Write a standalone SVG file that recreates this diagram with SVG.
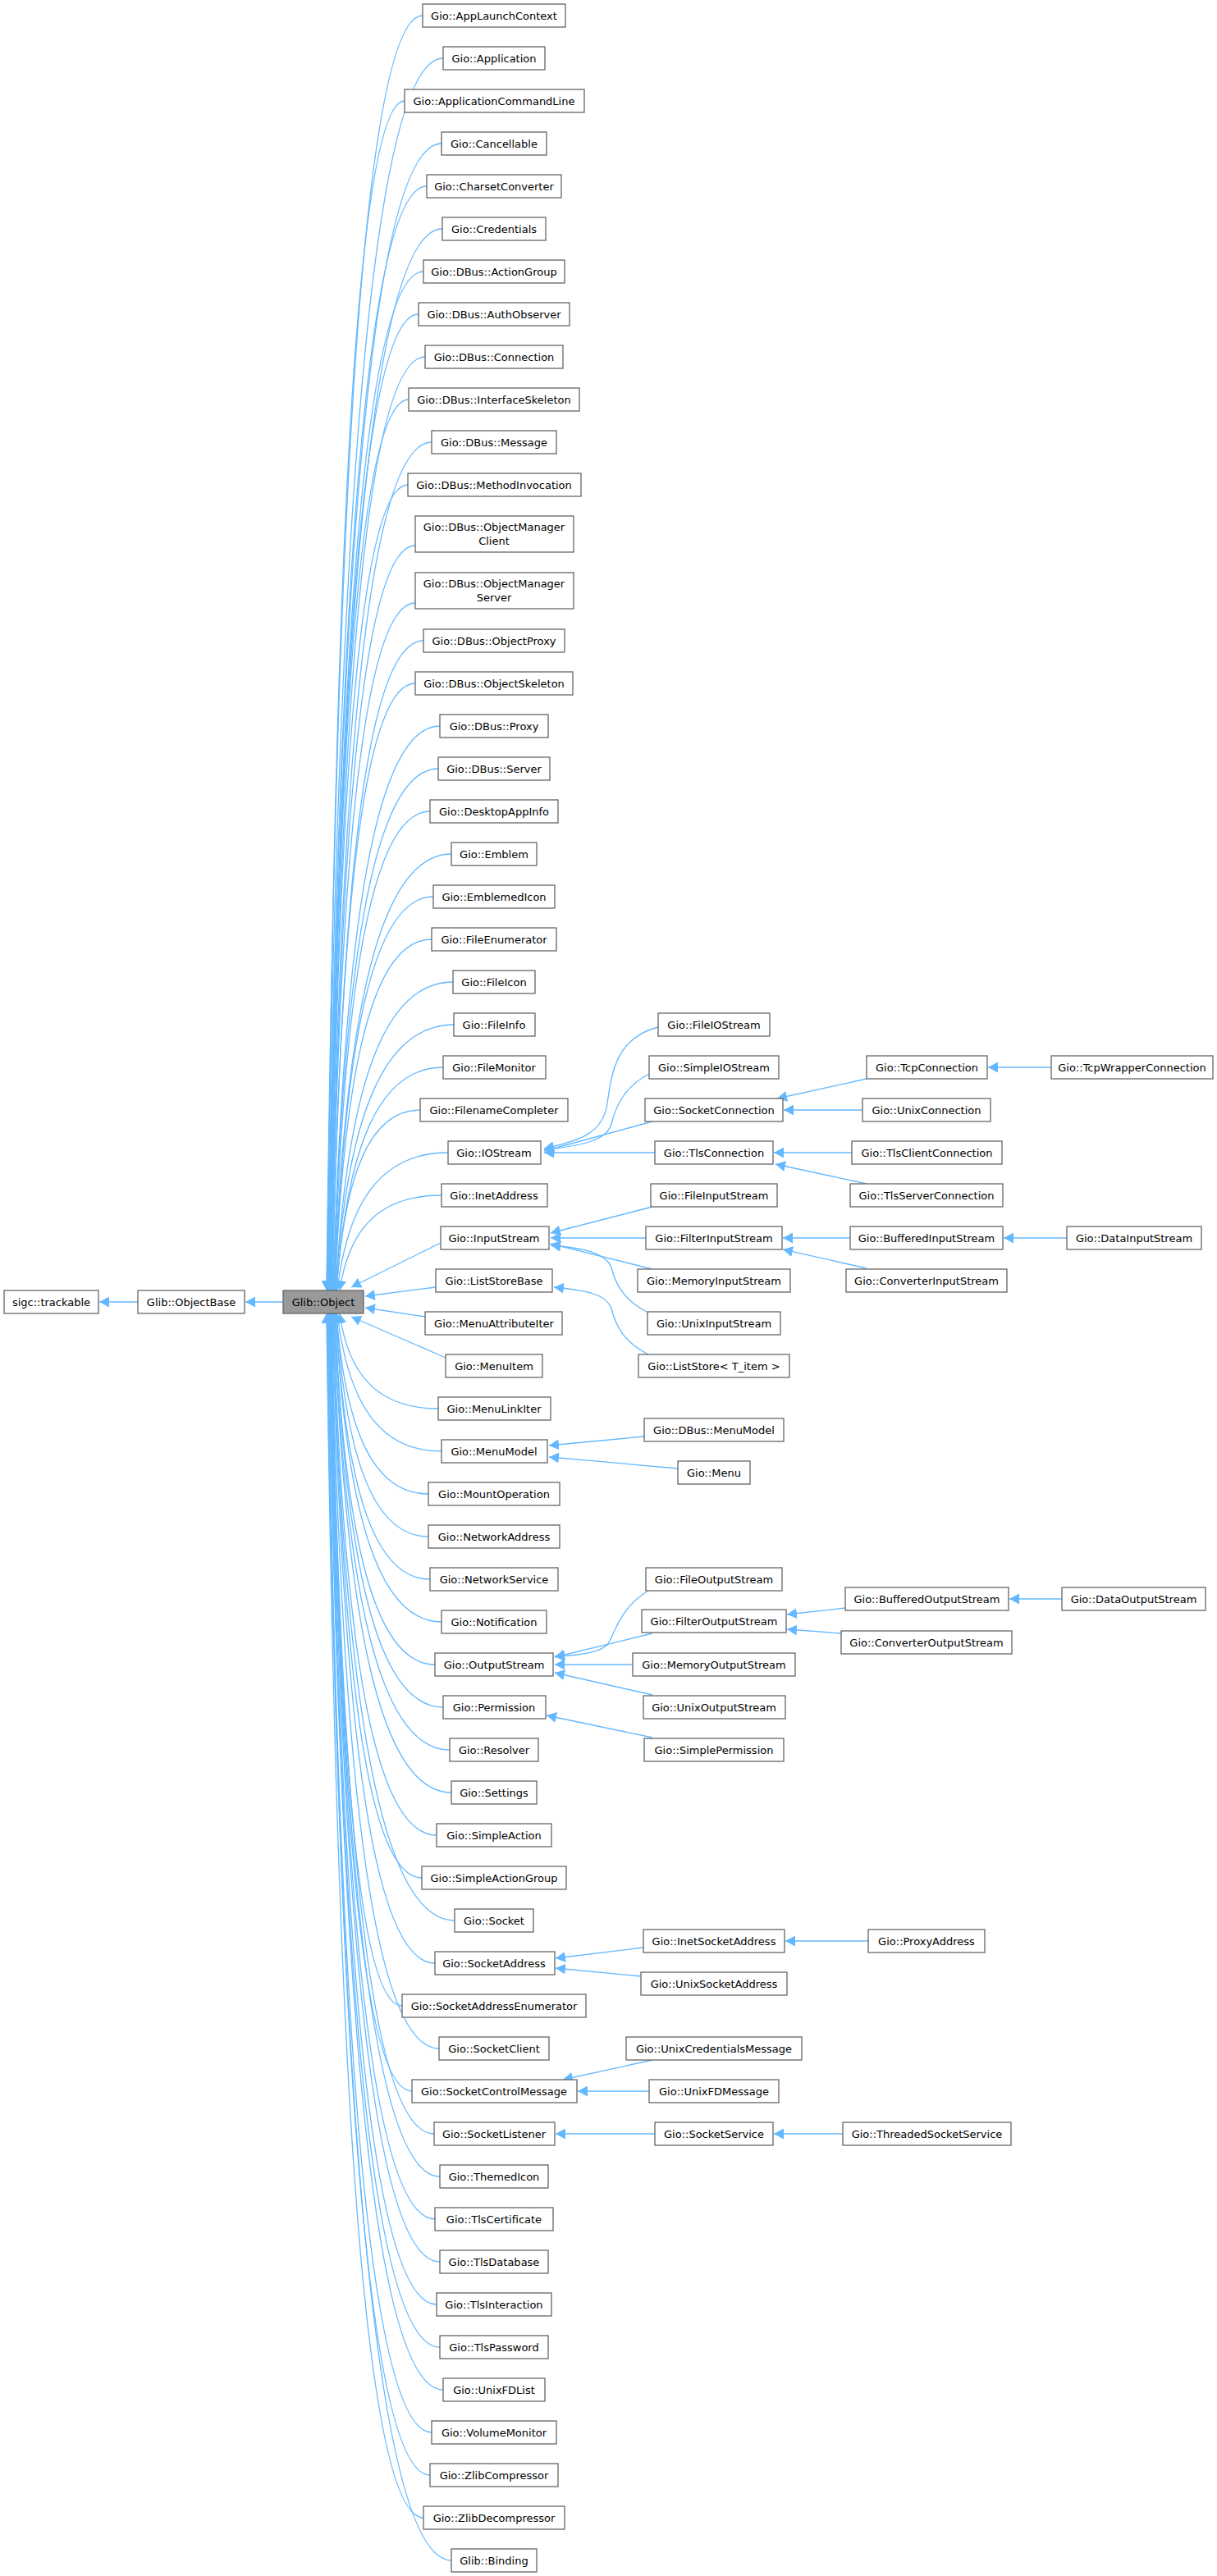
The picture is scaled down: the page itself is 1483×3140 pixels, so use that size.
<svg xmlns="http://www.w3.org/2000/svg" width="1483" height="3140" viewBox="0 0 1483 3140">
<style>
.n rect{fill:#fff;stroke:#666;stroke-width:1.3}
.n text{font-family:"DejaVu Sans",sans-serif;font-size:13px;fill:#000;text-anchor:middle}
#Object rect{fill:#999}
.e path{fill:none;stroke:#63b8ff;stroke-width:1.3;marker-end:url(#a)}
</style>
<defs><marker id="a" markerUnits="userSpaceOnUse" markerWidth="13" markerHeight="13" refX="12" refY="6.5" orient="auto"><path d="M0,0 L12,6.5 L0,13 z" fill="#63b8ff"/></marker></defs>
<g class="e" id="edges">
<path d="M345,1587 L299,1587"/>
<path d="M168,1587 L121,1587"/>
<path d="M515,19 C445,19 410,563 398,1573"/>
<path d="M540,71 C455,71 412,597 398,1573"/>
<path d="M493,123 C437,123 408,631 399,1573"/>
<path d="M538,175 C455,175 413,664 399,1573"/>
<path d="M520,227 C448,227 412,698 400,1573"/>
<path d="M539,279 C456,279 414,732 400,1573"/>
<path d="M516,331 C447,331 412,766 401,1573"/>
<path d="M510,383 C445,383 412,800 401,1573"/>
<path d="M518,435 C448,435 414,833 402,1573"/>
<path d="M498,487 C440,487 412,867 402,1573"/>
<path d="M526,539 C452,539 415,901 403,1573"/>
<path d="M497,591 C441,591 412,935 403,1573"/>
<path d="M506,665 C445,665 414,983 404,1573"/>
<path d="M506,735 C445,735 414,1028 404,1573"/>
<path d="M516,781 C449,781 416,1058 405,1573"/>
<path d="M506,833 C445,833 415,1092 405,1573"/>
<path d="M536,885 C458,885 419,1126 406,1573"/>
<path d="M534,937 C457,937 419,1160 406,1573"/>
<path d="M524,989 C454,989 419,1193 407,1573"/>
<path d="M550,1041 C464,1041 421,1227 407,1573"/>
<path d="M528,1093 C456,1093 420,1261 408,1573"/>
<path d="M526,1145 C455,1145 420,1295 408,1573"/>
<path d="M552,1197 C466,1197 423,1329 409,1573"/>
<path d="M553,1249 C467,1249 423,1362 409,1573"/>
<path d="M540,1301 C462,1301 423,1396 410,1573"/>
<path d="M512,1353 C451,1353 420,1430 410,1573"/>
<path d="M546,1405 C465,1405 424,1464 411,1573"/>
<path d="M538,1457 C462,1457 425,1498 414,1573"/>
<path d="M537,1515 L428,1569"/>
<path d="M531,1569 L445,1580"/>
<path d="M518,1605 L445,1594"/>
<path d="M543,1655 L428,1605"/>
<path d="M534,1717 C461,1717 424,1676 414,1601"/>
<path d="M538,1769 C462,1769 424,1710 411,1601"/>
<path d="M522,1821 C455,1821 421,1744 410,1601"/>
<path d="M522,1873 C455,1873 421,1778 410,1601"/>
<path d="M524,1925 C455,1925 421,1812 409,1601"/>
<path d="M538,1977 C461,1977 422,1845 409,1601"/>
<path d="M530,2029 C457,2029 420,1879 408,1601"/>
<path d="M540,2081 C461,2081 421,1913 408,1601"/>
<path d="M548,2133 C463,2133 421,1947 407,1601"/>
<path d="M550,2185 C464,2185 421,1981 407,1601"/>
<path d="M532,2237 C456,2237 419,2014 406,1601"/>
<path d="M514,2289 C449,2289 417,2048 406,1601"/>
<path d="M554,2341 C465,2341 420,2082 405,1601"/>
<path d="M530,2393 C455,2393 418,2116 405,1601"/>
<path d="M490,2445 C438,2445 413,2150 404,1601"/>
<path d="M535,2497 C456,2497 417,2183 404,1601"/>
<path d="M502,2549 C443,2549 413,2217 403,1601"/>
<path d="M529,2601 C453,2601 416,2251 403,1601"/>
<path d="M536,2653 C456,2653 415,2285 402,1601"/>
<path d="M530,2705 C453,2705 415,2319 402,1601"/>
<path d="M536,2757 C455,2757 415,2352 401,1601"/>
<path d="M532,2809 C453,2809 414,2386 401,1601"/>
<path d="M536,2861 C454,2861 414,2420 400,1601"/>
<path d="M540,2913 C456,2913 414,2454 400,1601"/>
<path d="M526,2965 C450,2965 412,2488 399,1601"/>
<path d="M524,3017 C449,3017 412,2521 399,1601"/>
<path d="M516,3069 C445,3069 410,2555 398,1601"/>
<path d="M550,3121 C459,3121 413,2589 398,1601"/>
<path d="M802,1252 C750,1265 745,1310 740,1345 C735,1380 710,1390 663,1400"/>
<path d="M791,1309 C760,1325 750,1350 745,1370 C740,1390 710,1396 663,1402"/>
<path d="M795,1367 L663,1403"/>
<path d="M798,1405 L663,1405"/>
<path d="M795,1471 L671,1503"/>
<path d="M787,1509 L671,1509"/>
<path d="M795,1547 L671,1516"/>
<path d="M790,1600 C760,1585 750,1565 745,1545 C738,1527 710,1521 671,1518"/>
<path d="M790,1651 C760,1636 750,1615 745,1595 C738,1577 715,1573 675,1569"/>
<path d="M785,1751 L669,1762"/>
<path d="M826,1790 L669,1776"/>
<path d="M790,1939 C755,1960 750,1990 740,2005 C730,2015 705,2018 676,2019"/>
<path d="M795,1991 L676,2020"/>
<path d="M771,2029 L676,2029"/>
<path d="M795,2066 L676,2039"/>
<path d="M795,2118 L666,2091"/>
<path d="M784,2374 L677,2387"/>
<path d="M781,2409 L677,2399"/>
<path d="M795,2511 L686,2535"/>
<path d="M791,2549 L704,2549"/>
<path d="M798,2601 L677,2601"/>
<path d="M1056,1315 L947,1339"/>
<path d="M1051,1353 L955,1353"/>
<path d="M1038,1405 L943,1405"/>
<path d="M1056,1443 L945,1419"/>
<path d="M1036,1509 L954,1509"/>
<path d="M1056,1546 L954,1523"/>
<path d="M1030,1960 L959,1968"/>
<path d="M1025,1991 L959,1986"/>
<path d="M1058,2366 L957,2366"/>
<path d="M1027,2601 L943,2601"/>
<path d="M1281,1301 L1204,1301"/>
<path d="M1300,1509 L1223,1509"/>
<path d="M1294,1949 L1230,1949"/>
</g>
<g class="n" id="trackable"><rect x="5" y="1573" width="115" height="28"/><text x="62.5" y="1591.5">sigc::trackable</text></g>
<g class="n" id="ObjectBase"><rect x="168" y="1573" width="130" height="28"/><text x="233" y="1591.5">Glib::ObjectBase</text></g>
<g class="n" id="Object"><rect x="345" y="1573" width="98" height="28"/><text x="394" y="1591.5">Glib::Object</text></g>
<g class="n" id="AppLaunchContext"><rect x="515" y="5" width="174" height="28"/><text x="602" y="23.5">Gio::AppLaunchContext</text></g>
<g class="n" id="Application"><rect x="540" y="57" width="124" height="28"/><text x="602" y="75.5">Gio::Application</text></g>
<g class="n" id="ApplicationCommandLine"><rect x="493" y="109" width="219" height="28"/><text x="602" y="127.5">Gio::ApplicationCommandLine</text></g>
<g class="n" id="Cancellable"><rect x="538" y="161" width="128" height="28"/><text x="602" y="179.5">Gio::Cancellable</text></g>
<g class="n" id="CharsetConverter"><rect x="520" y="213" width="164" height="28"/><text x="602" y="231.5">Gio::CharsetConverter</text></g>
<g class="n" id="Credentials"><rect x="539" y="265" width="126" height="28"/><text x="602" y="283.5">Gio::Credentials</text></g>
<g class="n" id="DBusActionGroup"><rect x="516" y="317" width="172" height="28"/><text x="602" y="335.5">Gio::DBus::ActionGroup</text></g>
<g class="n" id="DBusAuthObserver"><rect x="510" y="369" width="184" height="28"/><text x="602" y="387.5">Gio::DBus::AuthObserver</text></g>
<g class="n" id="DBusConnection"><rect x="518" y="421" width="168" height="28"/><text x="602" y="439.5">Gio::DBus::Connection</text></g>
<g class="n" id="DBusInterfaceSkeleton"><rect x="498" y="473" width="208" height="28"/><text x="602" y="491.5">Gio::DBus::InterfaceSkeleton</text></g>
<g class="n" id="DBusMessage"><rect x="526" y="525" width="152" height="28"/><text x="602" y="543.5">Gio::DBus::Message</text></g>
<g class="n" id="DBusMethodInvocation"><rect x="497" y="577" width="211" height="28"/><text x="602" y="595.5">Gio::DBus::MethodInvocation</text></g>
<g class="n" id="DBusObjectManagerClient"><rect x="506" y="629" width="193" height="44"/><text x="602" y="647">Gio::DBus::ObjectManager</text><text x="602" y="664">Client</text></g>
<g class="n" id="DBusObjectManagerServer"><rect x="506" y="698" width="193" height="44"/><text x="602" y="716">Gio::DBus::ObjectManager</text><text x="602" y="733">Server</text></g>
<g class="n" id="DBusObjectProxy"><rect x="516" y="767" width="172" height="28"/><text x="602" y="785.5">Gio::DBus::ObjectProxy</text></g>
<g class="n" id="DBusObjectSkeleton"><rect x="506" y="819" width="192" height="28"/><text x="602" y="837.5">Gio::DBus::ObjectSkeleton</text></g>
<g class="n" id="DBusProxy"><rect x="536" y="871" width="132" height="28"/><text x="602" y="889.5">Gio::DBus::Proxy</text></g>
<g class="n" id="DBusServer"><rect x="534" y="923" width="136" height="28"/><text x="602" y="941.5">Gio::DBus::Server</text></g>
<g class="n" id="DesktopAppInfo"><rect x="524" y="975" width="156" height="28"/><text x="602" y="993.5">Gio::DesktopAppInfo</text></g>
<g class="n" id="Emblem"><rect x="550" y="1027" width="104" height="28"/><text x="602" y="1045.5">Gio::Emblem</text></g>
<g class="n" id="EmblemedIcon"><rect x="528" y="1079" width="148" height="28"/><text x="602" y="1097.5">Gio::EmblemedIcon</text></g>
<g class="n" id="FileEnumerator"><rect x="526" y="1131" width="152" height="28"/><text x="602" y="1149.5">Gio::FileEnumerator</text></g>
<g class="n" id="FileIcon"><rect x="552" y="1183" width="100" height="28"/><text x="602" y="1201.5">Gio::FileIcon</text></g>
<g class="n" id="FileInfo"><rect x="553" y="1235" width="99" height="28"/><text x="602" y="1253.5">Gio::FileInfo</text></g>
<g class="n" id="FileMonitor"><rect x="540" y="1287" width="125" height="28"/><text x="602" y="1305.5">Gio::FileMonitor</text></g>
<g class="n" id="FilenameCompleter"><rect x="512" y="1339" width="180" height="28"/><text x="602" y="1357.5">Gio::FilenameCompleter</text></g>
<g class="n" id="IOStream"><rect x="546" y="1391" width="113" height="28"/><text x="602" y="1409.5">Gio::IOStream</text></g>
<g class="n" id="InetAddress"><rect x="538" y="1443" width="129" height="28"/><text x="602" y="1461.5">Gio::InetAddress</text></g>
<g class="n" id="InputStream"><rect x="537" y="1495" width="132" height="28"/><text x="602" y="1513.5">Gio::InputStream</text></g>
<g class="n" id="ListStoreBase"><rect x="531" y="1547" width="142" height="28"/><text x="602" y="1565.5">Gio::ListStoreBase</text></g>
<g class="n" id="MenuAttributeIter"><rect x="518" y="1599" width="167" height="28"/><text x="602" y="1617.5">Gio::MenuAttributeIter</text></g>
<g class="n" id="MenuItem"><rect x="543" y="1651" width="118" height="28"/><text x="602" y="1669.5">Gio::MenuItem</text></g>
<g class="n" id="MenuLinkIter"><rect x="534" y="1703" width="137" height="28"/><text x="602" y="1721.5">Gio::MenuLinkIter</text></g>
<g class="n" id="MenuModel"><rect x="538" y="1755" width="129" height="28"/><text x="602" y="1773.5">Gio::MenuModel</text></g>
<g class="n" id="MountOperation"><rect x="522" y="1807" width="160" height="28"/><text x="602" y="1825.5">Gio::MountOperation</text></g>
<g class="n" id="NetworkAddress"><rect x="522" y="1859" width="160" height="28"/><text x="602" y="1877.5">Gio::NetworkAddress</text></g>
<g class="n" id="NetworkService"><rect x="524" y="1911" width="156" height="28"/><text x="602" y="1929.5">Gio::NetworkService</text></g>
<g class="n" id="Notification"><rect x="538" y="1963" width="128" height="28"/><text x="602" y="1981.5">Gio::Notification</text></g>
<g class="n" id="OutputStream"><rect x="530" y="2015" width="144" height="28"/><text x="602" y="2033.5">Gio::OutputStream</text></g>
<g class="n" id="Permission"><rect x="540" y="2067" width="125" height="28"/><text x="602" y="2085.5">Gio::Permission</text></g>
<g class="n" id="Resolver"><rect x="548" y="2119" width="108" height="28"/><text x="602" y="2137.5">Gio::Resolver</text></g>
<g class="n" id="Settings"><rect x="550" y="2171" width="104" height="28"/><text x="602" y="2189.5">Gio::Settings</text></g>
<g class="n" id="SimpleAction"><rect x="532" y="2223" width="140" height="28"/><text x="602" y="2241.5">Gio::SimpleAction</text></g>
<g class="n" id="SimpleActionGroup"><rect x="514" y="2275" width="176" height="28"/><text x="602" y="2293.5">Gio::SimpleActionGroup</text></g>
<g class="n" id="Socket"><rect x="554" y="2327" width="96" height="28"/><text x="602" y="2345.5">Gio::Socket</text></g>
<g class="n" id="SocketAddress"><rect x="530" y="2379" width="146" height="28"/><text x="602" y="2397.5">Gio::SocketAddress</text></g>
<g class="n" id="SocketAddressEnumerator"><rect x="490" y="2431" width="224" height="28"/><text x="602" y="2449.5">Gio::SocketAddressEnumerator</text></g>
<g class="n" id="SocketClient"><rect x="535" y="2483" width="134" height="28"/><text x="602" y="2501.5">Gio::SocketClient</text></g>
<g class="n" id="SocketControlMessage"><rect x="502" y="2535" width="201" height="28"/><text x="602" y="2553.5">Gio::SocketControlMessage</text></g>
<g class="n" id="SocketListener"><rect x="529" y="2587" width="147" height="28"/><text x="602" y="2605.5">Gio::SocketListener</text></g>
<g class="n" id="ThemedIcon"><rect x="536" y="2639" width="132" height="28"/><text x="602" y="2657.5">Gio::ThemedIcon</text></g>
<g class="n" id="TlsCertificate"><rect x="530" y="2691" width="144" height="28"/><text x="602" y="2709.5">Gio::TlsCertificate</text></g>
<g class="n" id="TlsDatabase"><rect x="536" y="2743" width="132" height="28"/><text x="602" y="2761.5">Gio::TlsDatabase</text></g>
<g class="n" id="TlsInteraction"><rect x="532" y="2795" width="140" height="28"/><text x="602" y="2813.5">Gio::TlsInteraction</text></g>
<g class="n" id="TlsPassword"><rect x="536" y="2847" width="132" height="28"/><text x="602" y="2865.5">Gio::TlsPassword</text></g>
<g class="n" id="UnixFDList"><rect x="540" y="2899" width="124" height="28"/><text x="602" y="2917.5">Gio::UnixFDList</text></g>
<g class="n" id="VolumeMonitor"><rect x="526" y="2951" width="152" height="28"/><text x="602" y="2969.5">Gio::VolumeMonitor</text></g>
<g class="n" id="ZlibCompressor"><rect x="524" y="3003" width="156" height="28"/><text x="602" y="3021.5">Gio::ZlibCompressor</text></g>
<g class="n" id="ZlibDecompressor"><rect x="516" y="3055" width="172" height="28"/><text x="602" y="3073.5">Gio::ZlibDecompressor</text></g>
<g class="n" id="Binding"><rect x="550" y="3107" width="104" height="28"/><text x="602" y="3125.5">Glib::Binding</text></g>
<g class="n" id="FileIOStream"><rect x="802" y="1235" width="136" height="28"/><text x="870" y="1253.5">Gio::FileIOStream</text></g>
<g class="n" id="SimpleIOStream"><rect x="791" y="1287" width="158" height="28"/><text x="870" y="1305.5">Gio::SimpleIOStream</text></g>
<g class="n" id="SocketConnection"><rect x="786" y="1339" width="168" height="28"/><text x="870" y="1357.5">Gio::SocketConnection</text></g>
<g class="n" id="TlsConnection"><rect x="798" y="1391" width="144" height="28"/><text x="870" y="1409.5">Gio::TlsConnection</text></g>
<g class="n" id="FileInputStream"><rect x="793" y="1443" width="154" height="28"/><text x="870" y="1461.5">Gio::FileInputStream</text></g>
<g class="n" id="FilterInputStream"><rect x="787" y="1495" width="166" height="28"/><text x="870" y="1513.5">Gio::FilterInputStream</text></g>
<g class="n" id="MemoryInputStream"><rect x="777" y="1547" width="186" height="28"/><text x="870" y="1565.5">Gio::MemoryInputStream</text></g>
<g class="n" id="UnixInputStream"><rect x="789" y="1599" width="162" height="28"/><text x="870" y="1617.5">Gio::UnixInputStream</text></g>
<g class="n" id="ListStore"><rect x="778" y="1651" width="184" height="28"/><text x="870" y="1669.5">Gio::ListStore&lt; T_item &gt;</text></g>
<g class="n" id="DBusMenuModel"><rect x="785" y="1729" width="170" height="28"/><text x="870" y="1747.5">Gio::DBus::MenuModel</text></g>
<g class="n" id="Menu"><rect x="826" y="1781" width="88" height="28"/><text x="870" y="1799.5">Gio::Menu</text></g>
<g class="n" id="FileOutputStream"><rect x="787" y="1911" width="166" height="28"/><text x="870" y="1929.5">Gio::FileOutputStream</text></g>
<g class="n" id="FilterOutputStream"><rect x="782" y="1962" width="176" height="28"/><text x="870" y="1980.5">Gio::FilterOutputStream</text></g>
<g class="n" id="MemoryOutputStream"><rect x="771" y="2015" width="198" height="28"/><text x="870" y="2033.5">Gio::MemoryOutputStream</text></g>
<g class="n" id="UnixOutputStream"><rect x="784" y="2067" width="173" height="28"/><text x="870" y="2085.5">Gio::UnixOutputStream</text></g>
<g class="n" id="SimplePermission"><rect x="785" y="2119" width="170" height="28"/><text x="870" y="2137.5">Gio::SimplePermission</text></g>
<g class="n" id="InetSocketAddress"><rect x="784" y="2352" width="172" height="28"/><text x="870" y="2370.5">Gio::InetSocketAddress</text></g>
<g class="n" id="UnixSocketAddress"><rect x="781" y="2404" width="178" height="28"/><text x="870" y="2422.5">Gio::UnixSocketAddress</text></g>
<g class="n" id="UnixCredentialsMessage"><rect x="763" y="2483" width="214" height="28"/><text x="870" y="2501.5">Gio::UnixCredentialsMessage</text></g>
<g class="n" id="UnixFDMessage"><rect x="791" y="2535" width="158" height="28"/><text x="870" y="2553.5">Gio::UnixFDMessage</text></g>
<g class="n" id="SocketService"><rect x="798" y="2587" width="144" height="28"/><text x="870" y="2605.5">Gio::SocketService</text></g>
<g class="n" id="TcpConnection"><rect x="1056" y="1287" width="147" height="28"/><text x="1129.5" y="1305.5">Gio::TcpConnection</text></g>
<g class="n" id="UnixConnection"><rect x="1051" y="1339" width="156" height="28"/><text x="1129" y="1357.5">Gio::UnixConnection</text></g>
<g class="n" id="TlsClientConnection"><rect x="1038" y="1391" width="183" height="28"/><text x="1129.5" y="1409.5">Gio::TlsClientConnection</text></g>
<g class="n" id="TlsServerConnection"><rect x="1036" y="1443" width="186" height="28"/><text x="1129" y="1461.5">Gio::TlsServerConnection</text></g>
<g class="n" id="BufferedInputStream"><rect x="1036" y="1495" width="186" height="28"/><text x="1129" y="1513.5">Gio::BufferedInputStream</text></g>
<g class="n" id="ConverterInputStream"><rect x="1031" y="1547" width="196" height="28"/><text x="1129" y="1565.5">Gio::ConverterInputStream</text></g>
<g class="n" id="BufferedOutputStream"><rect x="1030" y="1935" width="199" height="28"/><text x="1129.5" y="1953.5">Gio::BufferedOutputStream</text></g>
<g class="n" id="ConverterOutputStream"><rect x="1025" y="1988" width="208" height="28"/><text x="1129" y="2006.5">Gio::ConverterOutputStream</text></g>
<g class="n" id="ProxyAddress"><rect x="1058" y="2352" width="142" height="28"/><text x="1129" y="2370.5">Gio::ProxyAddress</text></g>
<g class="n" id="ThreadedSocketService"><rect x="1027" y="2587" width="205" height="28"/><text x="1129.5" y="2605.5">Gio::ThreadedSocketService</text></g>
<g class="n" id="TcpWrapperConnection"><rect x="1281" y="1287" width="197" height="28"/><text x="1379.5" y="1305.5">Gio::TcpWrapperConnection</text></g>
<g class="n" id="DataInputStream"><rect x="1300" y="1495" width="164" height="28"/><text x="1382" y="1513.5">Gio::DataInputStream</text></g>
<g class="n" id="DataOutputStream"><rect x="1294" y="1935" width="175" height="28"/><text x="1381.5" y="1953.5">Gio::DataOutputStream</text></g>
</svg>
